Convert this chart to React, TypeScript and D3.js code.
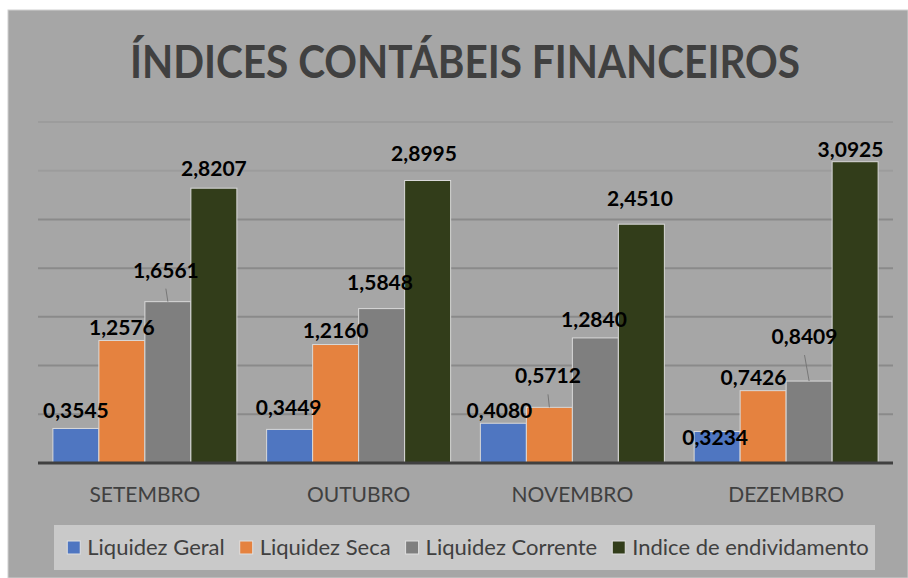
import React, { useMemo } from "react";
import * as d3 from "d3";

const months = ["SETEMBRO", "OUTUBRO", "NOVEMBRO", "DEZEMBRO"];
const seriesNames = ["Liquidez Geral", "Liquidez Seca", "Liquidez Corrente", "Indice de endividamento"];
const liquidezGeral = [0.3545, 0.3449, 0.408, 0.3234];
const liquidezSeca = [1.2576, 1.216, 0.5712, 0.7426];
const liquidezCorrente = [1.6561, 1.5848, 1.284, 0.8409];
const indiceEndividamento = [2.8207, 2.8995, 2.451, 3.0925];
const yTicks = [0, 0.5, 1, 1.5, 2, 2.5, 3, 3.5];
const title = "ÍNDICES CONTÁBEIS FINANCEIROS";

const seriesValues = [liquidezGeral, liquidezSeca, liquidezCorrente, indiceEndividamento];
const colors = ["#4f76c1", "#e5823f", "#7f7f7f", "#323d1a"];

// manual data-label placement (dx, dy of baseline from bar top, leader line), [month][series]
const labelNudge: [number, number, boolean][][] = [
  [[0, -10.5, false], [0, -5.5, false], [-2, -24, true], [0, -12, false]],
  [[-1, -14, false], [0, -6.6, false], [-1.6, -18.6, false], [-3.6, -19.6, false]],
  [[-4, -5, false], [-1.4, -24, true], [-1.4, -11, false], [-1.4, -18, false]],
  [[-2, 13.5, false], [-9.6, -6, false], [-4.6, -37, true], [-4.6, -5, false]],
];

const FONT = "Lato, 'Open Sans', sans-serif";

function measure(text: string, font: string) {
  const c = document.createElement("canvas").getContext("2d")!;
  c.font = font;
  return c.measureText(text).width;
}

export default function App() {
  const W = 908, H = 578;
  const left = 38, right = 893, top = 122, bottom = 463;
  const x0 = d3.scaleBand<string>().domain(months).range([left, right]).paddingInner(0.1392).paddingOuter(0.0696);
  const x1 = d3.scaleBand<number>().domain([0, 1, 2, 3]).range([0, x0.bandwidth()]);
  const y = d3.scaleLinear().domain([0, 3.5]).range([bottom, top]);

  const legendFontSize = 22;
  const legend = useMemo(() => {
    const font = `${legendFontSize}px Lato`;
    const sq = 13, g1 = 7, g2 = 15;
    const widths = seriesNames.map((s) => measure(s, font));
    const total = widths.reduce((a, w) => a + sq + g1 + w, 0) + g2 * (seriesNames.length - 1);
    let cx = 468 - total / 2;
    return widths.map((w) => {
      const item = { sx: cx, tx: cx + sq + g1 };
      cx += sq + g1 + w + g2;
      return item;
    });
  }, []);

  return (
    <svg width={W} height={H} style={{ position: "absolute", left: 0, top: 0, fontFamily: FONT }}>
      <rect x={0} y={0} width={W} height={H} fill="#ffffff" />
      <rect x={8} y={10} width={900} height={568} fill="#a6a6a6" stroke="#d0d0d0" strokeWidth={1} />
      <text x={465} y={78} textAnchor="middle" fontSize={45} fontWeight={700} fill="#404040" textLength={670} lengthAdjust="spacingAndGlyphs">
        {title}
      </text>
      {yTicks.slice(1).map((t) => (
        <line key={t} x1={left} x2={right} y1={y(t)} y2={y(t)} stroke={t >= 3 ? "#9c9c9c" : "#8a8a8a"} strokeWidth={2} />
      ))}
      {months.map((m, mi) => (
        <g key={m} transform={`translate(${x0(m)},0)`}>
          {seriesValues.map((vals, si) => (
            <rect
              key={si}
              x={x1(si)}
              y={y(vals[mi])}
              width={x1.bandwidth()}
              height={y(0) - y(vals[mi])}
              fill={colors[si]}
              stroke="#d9d9d9"
              strokeWidth={1}
            />
          ))}
        </g>
      ))}
      <line x1={left} x2={right} y1={bottom} y2={bottom} stroke="#404040" strokeWidth={3} />
      {months.map((m, mi) =>
        seriesValues.map((vals, si) => {
          const cx = (x0(m) as number) + (x1(si) as number) + x1.bandwidth() / 2;
          const ty = y(vals[mi]);
          const [dx, dy, leader] = labelNudge[mi][si];
          return (
            <g key={`${m}-${si}`}>
              {leader && (
                <line x1={cx + dx} y1={ty + dy + 11} x2={cx} y2={ty} stroke="#777" strokeWidth={1} />
              )}
              <text x={cx + dx} y={ty + dy} textAnchor="middle" fontSize={21} fontWeight={700} fill="#000">
                {vals[mi].toFixed(4).replace(".", ",")}
              </text>
            </g>
          );
        })
      )}
      {months.map((m) => (
        <text key={m} x={(x0(m) as number) + x0.bandwidth() / 2} y={502} textAnchor="middle" fontSize={21} fill="#404040">
          {m}
        </text>
      ))}
      <rect x={54} y={525} width={821} height={45} fill="#c9c9c9" />
      {seriesNames.map((s, i) => (
        <g key={s}>
          <rect x={legend[i].sx} y={541} width={13} height={13} fill={colors[i]} stroke="#e0e0e0" strokeWidth={1} />
          <text x={legend[i].tx} y={555} fontSize={legendFontSize} fill="#404040">
            {s}
          </text>
        </g>
      ))}
    </svg>
  );
}
